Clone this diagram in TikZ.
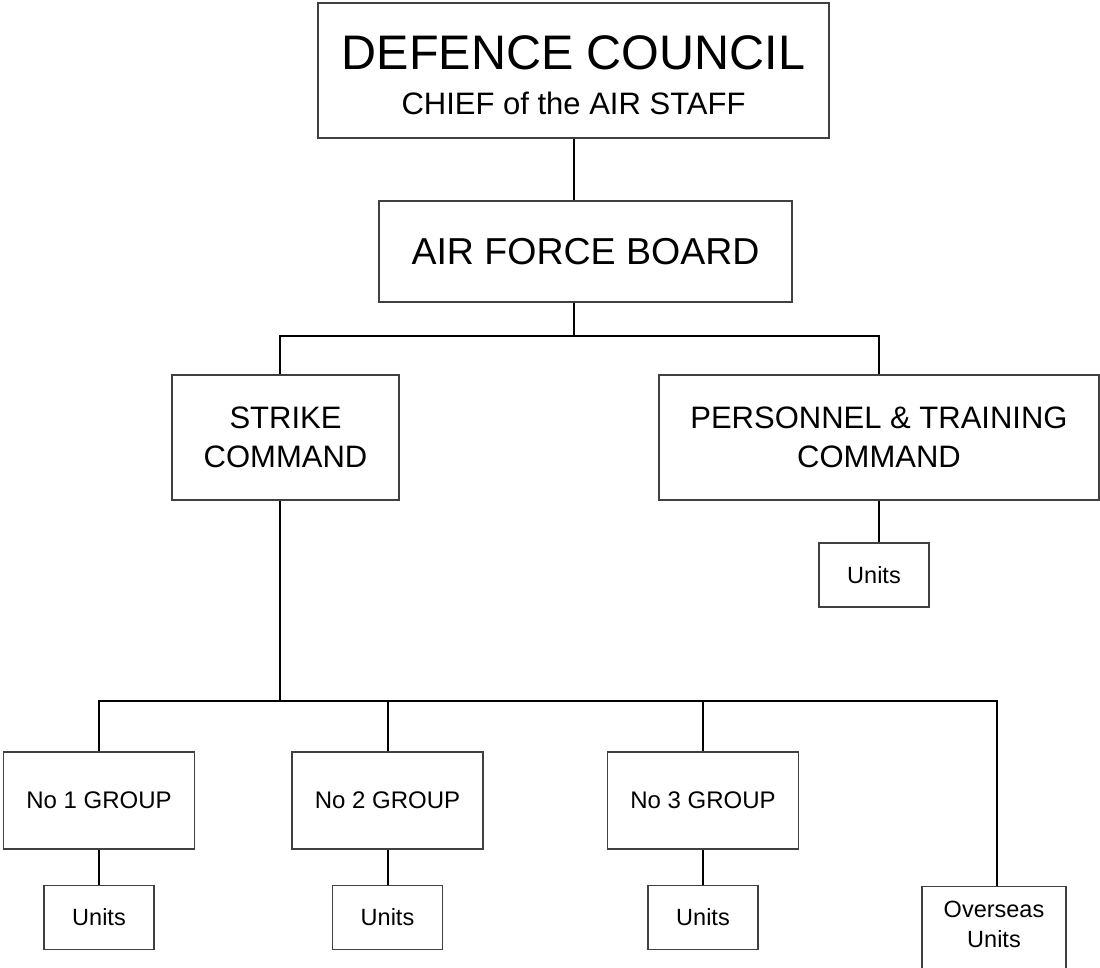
\documentclass[tikz,border=0pt]{standalone}
\usepackage{fontspec}
\setmainfont{Liberation Sans}
\usepackage{tikz}
\usetikzlibrary{positioning, calc}

\begin{document}
\begin{tikzpicture}[x=1pt, y=-1pt, box/.style={draw=black!75, line width=1.1pt, align=center, inner sep=0pt}, link/.style={line width=2pt, black}]
\useasboundingbox (0,0) rectangle (1100,967);

\node [box, minimum width=511, minimum height=135, text height=89pt, font=\fontsize{31}{45}\selectfont] (dc) at (573.5,70.5) {{\fontsize{48.5}{45}\selectfont DEFENCE COUNCIL}\\CHIEF of the AIR STAFF};
\node [box, minimum width=413, minimum height=101, font=\fontsize{37.5}{44}\selectfont] (afb) at (585.5,251.5) {AIR FORCE BOARD};

\node [box, minimum width=227, minimum height=125, font=\fontsize{31}{39}\selectfont] (sc) at (285.5,437.5) {STRIKE\\COMMAND};
\node [box, minimum width=440, minimum height=125, font=\fontsize{31}{39}\selectfont] (ptc) at (879,437.5) {PERSONNEL \& TRAINING\\COMMAND};
\node [box, minimum width=110, minimum height=64, font=\fontsize{23.5}{28}\selectfont] (ptu) at (874,575) {Units};

\foreach \n/\x in {1/99, 2/387.5, 3/703}
{
\node [box, minimum width=191, minimum height=97, font=\fontsize{24}{28}\selectfont] (g\n) at (\x,800.5) {No \n\ GROUP};
\node [box, minimum width=110, minimum height=64, font=\fontsize{23.5}{28}\selectfont] (u\n) at (\x,917.5) {Units};
}
\node [box, minimum width=144, anchor=north, inner ysep=15pt, text depth=60pt, font=\fontsize{23.5}{29.4}\selectfont] (ou) at (994,886) {Overseas\\Units};

\coordinate (bar1l) at (280,336);
\coordinate (bar1r) at (879,336);
\coordinate (bar2r) at (997,701);

\draw [link] (dc.south) -- (dc.south |- afb.north);
\draw [link] (dc.south |- afb.south) -- (dc.south |- bar1l);
\draw [link] (bar1l |- sc.north) |- (bar1r) -- (bar1r |- ptc.north);
\draw [link] (bar1r |- ptc.south) -- (bar1r |- ptu.north);

\draw [link] (bar1l |- sc.south) -- (bar1l |- bar2r);
\draw [link] (g1.north) |- (bar2r) -- (bar2r |- ou.north);
\foreach \n in {2, 3}
\draw [link] (g\n.north) -- (g\n.north |- bar2r);
\foreach \n in {1, 2, 3}
\draw [link] (g\n.south) -- (u\n.north);
\end{tikzpicture}
\end{document}
